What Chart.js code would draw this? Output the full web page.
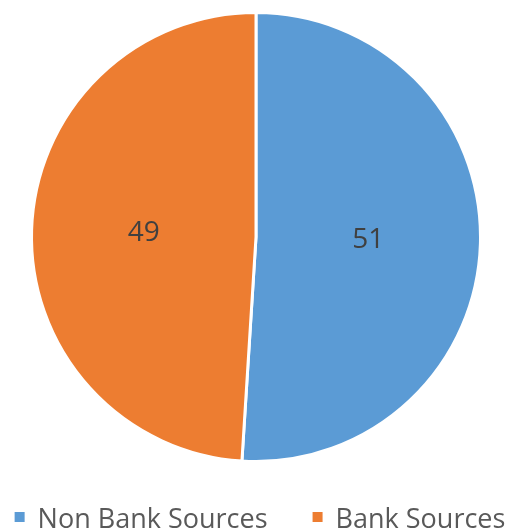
<!DOCTYPE html>
<html>
<head>
<meta charset="utf-8">
<script src="https://cdn.jsdelivr.net/npm/chart.js@4"></script>
<style>
  html, body { margin: 0; padding: 0; background: #fff; }
  #wrap { width: 514px; height: 530px; }
</style>
</head>
<body>
<div id="wrap"><canvas id="sources"></canvas></div>
<script>
const categories = ['Non Bank Sources', 'Bank Sources'];
const shares = [51, 49];
const sliceColors = ['#5B9BD5', '#ED7D31'];

// print each value in the middle of its slice
const sliceLabels = {
    id: 'sliceLabels',
    afterDatasetsDraw(chart) {
        const ctx = chart.ctx;
        const meta = chart.getDatasetMeta(0);
        ctx.save();
        ctx.font = '28px "Open Sans"';
        ctx.fillStyle = '#404040';
        ctx.textAlign = 'center';
        ctx.textBaseline = 'middle';
        meta.data.forEach((arc, i) => {
            const pos = arc.tooltipPosition();
            ctx.fillText(String(chart.data.datasets[0].data[i]), pos.x, pos.y);
        });
        ctx.restore();
    }
};

// one-row legend under the pie, wide gap between the two entries
const bottomLegend = {
    id: 'bottomLegend',
    afterDraw(chart) {
        const ctx = chart.ctx;
        const colors = chart.data.datasets[0].backgroundColor;
        const box = 10, gap = 13, spacing = 45, baseline = 528;
        ctx.save();
        ctx.font = '27px "Open Sans"';
        ctx.textBaseline = 'alphabetic';
        const widths = chart.data.labels.map(l => ctx.measureText(l).width);
        let total = spacing * (widths.length - 1);
        widths.forEach(w => { total += box + gap + w; });
        let x = (chart.width - total) / 2 + 3;
        chart.data.labels.forEach((label, i) => {
            ctx.fillStyle = colors[i];
            ctx.fillRect(x, 512, box, box);
            ctx.fillStyle = '#595959';
            ctx.fillText(label, x + box + gap, baseline);
            x += box + gap + widths[i] + spacing;
        });
        ctx.restore();
    }
};

new Chart(document.getElementById('sources'), {
    type: 'pie',
    data: {
        labels: categories,
        datasets: [{
            data: shares,
            backgroundColor: sliceColors,
            borderColor: '#ffffff',
            borderWidth: 3
        }]
    },
    options: {
        responsive: true,
        maintainAspectRatio: false,
        animation: false,
        layout: { padding: { top: 11, bottom: 67, right: 2 } },
        plugins: {
            tooltip: { enabled: false },
            legend: { display: false }
        }
    },
    plugins: [sliceLabels, bottomLegend]
});
</script>
</body>
</html>
